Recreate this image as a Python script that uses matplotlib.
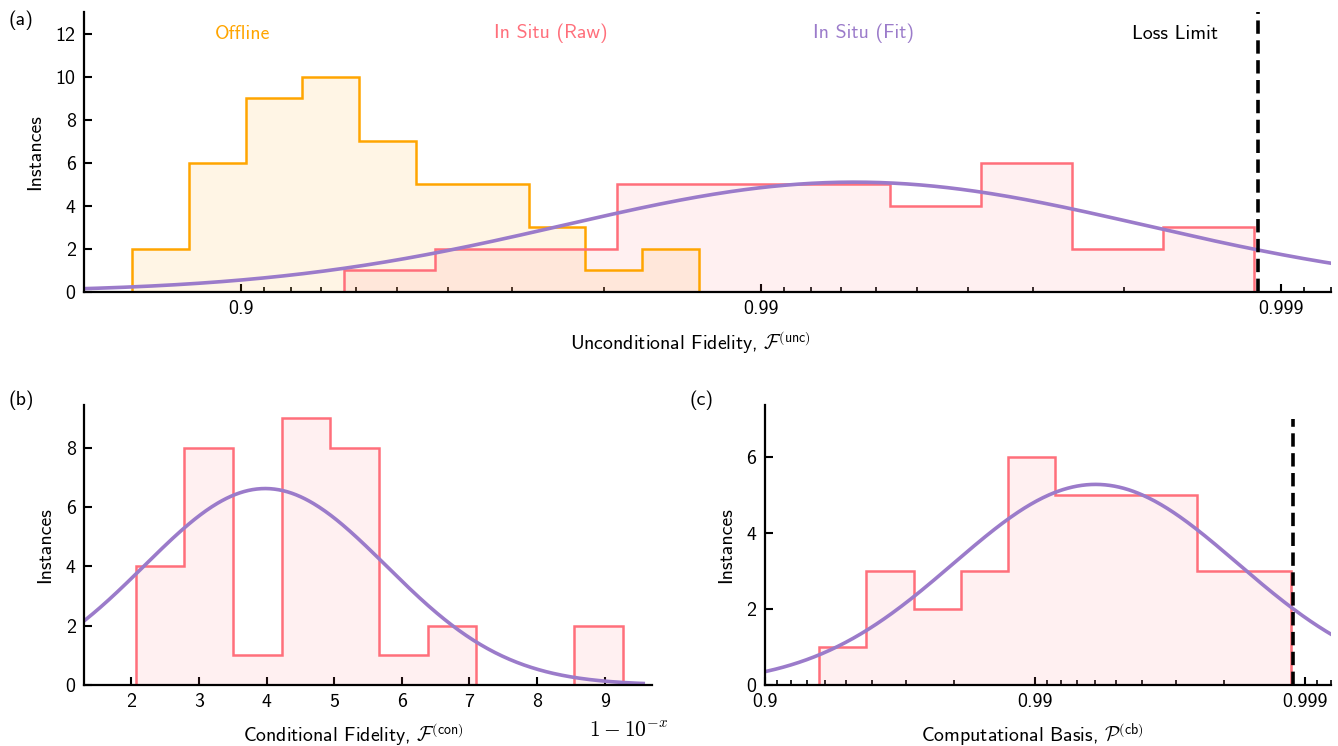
import numpy as np
import matplotlib
matplotlib.use('Agg')
import matplotlib.pyplot as plt
from matplotlib.ticker import FixedLocator, FixedFormatter, NullFormatter

FS = 14.3

plt.rcParams['font.family'] = 'cmss10'
plt.rcParams['mathtext.fontset'] = 'cm'
plt.rcParams['axes.unicode_minus'] = False
plt.rcParams['font.size'] = FS

ORANGE = '#FFA500'
RED = '#FF6F7B'
PURPLE = '#9B7BCA'

# all x values are in "nines": x = -log10(1 - F)
offline_edges = [0.792, 0.901, 1.010, 1.119, 1.228, 1.337, 1.445, 1.554, 1.663, 1.772, 1.881]
offline_counts = [2, 6, 9, 10, 7, 5, 5, 3, 1, 2]

unc_edges = [1.198, 1.373, 1.548, 1.723, 1.898, 2.073, 2.248, 2.423, 2.598, 2.773, 2.948]
unc_counts = [1, 2, 2, 5, 5, 5, 4, 6, 2, 3]
unc_fit = (5.1, 2.18, 0.56)  # amplitude, mean, sigma

con_edges = [2.064, 2.784, 3.504, 4.224, 4.944, 5.664, 6.384, 7.104, 7.824, 8.544, 9.264]
con_counts = [4, 8, 1, 9, 8, 1, 2, 0, 0, 2]
con_fit = (6.63, 3.98, 1.79)

cb_edges = [1.201, 1.376, 1.551, 1.725, 1.900, 2.075, 2.250, 2.424, 2.599, 2.774, 2.949]
cb_counts = [1, 3, 2, 3, 6, 5, 5, 5, 3, 3]
cb_fit = (5.28, 2.225, 0.526)

loss_limit = 2.956

nines_ticks = [1, 2, 3]
nines_labels = ['0.9', '0.99', '0.999']


def gauss(x, amp, mu, sigma):
    return amp * np.exp(-(x - mu) ** 2 / (2 * sigma ** 2))


def draw_hist(ax, edges, counts, color, z):
    ax.stairs(counts, edges, fill=True, color=color, alpha=0.1, lw=0, zorder=z)
    ax.stairs(counts, edges, baseline=0, color=color, lw=1.8, zorder=z + 1)


def style(ax):
    for s in ['top', 'right']:
        ax.spines[s].set_visible(False)
    for s in ['left', 'bottom']:
        ax.spines[s].set_linewidth(1.6)
        ax.spines[s].set_zorder(10)
    ax.tick_params(direction='in', width=1.5, length=6, pad=6, labelsize=FS)
    ax.tick_params(which='minor', direction='in', width=1.2, length=3.5)


def nines_axis(ax):
    minor = [-np.log10(k * 10.0 ** -n) for n in range(1, 5) for k in range(2, 10)]
    ax.xaxis.set_major_locator(FixedLocator(nines_ticks))
    ax.xaxis.set_major_formatter(FixedFormatter(nines_labels))
    ax.xaxis.set_minor_locator(FixedLocator(minor))
    ax.xaxis.set_minor_formatter(NullFormatter())


fig = plt.figure(figsize=(13.38, 7.46), dpi=100)
ax_a = fig.add_axes([0.0628, 0.6086, 0.932, 0.3753])
ax_b = fig.add_axes([0.0628, 0.0818, 0.4245, 0.3753])
ax_c = fig.add_axes([0.5717, 0.0818, 0.4230, 0.3753])

# (a) unconditional fidelity
draw_hist(ax_a, offline_edges, offline_counts, ORANGE, 2)
draw_hist(ax_a, unc_edges, unc_counts, RED, 2)
xs = np.linspace(0.6, 3.2, 400)
ax_a.plot(xs, gauss(xs, *unc_fit), color=PURPLE, lw=2.6, zorder=5)
ax_a.axvline(loss_limit, color='black', lw=2.6, ls=(0, (3.7, 1.8)), zorder=6)
ax_a.set_xlim(-np.log10(0.2), -np.log10(0.0008))
ax_a.set_ylim(0, 13)
ax_a.set_yticks([0, 2, 4, 6, 8, 10, 12])
nines_axis(ax_a)
style(ax_a)
ax_a.set_xlabel(r'Unconditional Fidelity, $\mathcal{F}^{\mathsf{(unc)}}$', labelpad=8)
ax_a.xaxis.label.set_x(0.486)
ax_a.set_ylabel('Instances', labelpad=8)
for x, txt, c in [(0.127, 'Offline', ORANGE), (0.374, 'In Situ (Raw)', RED),
                  (0.625, 'In Situ (Fit)', PURPLE), (0.875, 'Loss Limit', 'black')]:
    ax_a.text(x, 12 / 13, txt, color=c, ha='center', va='center',
              transform=ax_a.transAxes)

# (b) conditional fidelity
draw_hist(ax_b, con_edges, con_counts, RED, 2)
xs = np.linspace(1.0, 9.57, 400)
ax_b.plot(xs, gauss(xs, *con_fit), color=PURPLE, lw=2.6, zorder=5)
ax_b.set_xlim(1.30, 9.70)
ax_b.set_ylim(0, 9.45)
ax_b.set_xticks(range(2, 10))
ax_b.set_yticks([0, 2, 4, 6, 8])
style(ax_b)
ax_b.set_xlabel(r'Conditional Fidelity, $\mathcal{F}^{\mathsf{(con)}}$', labelpad=7)
ax_b.xaxis.label.set_x(0.4735)
ax_b.set_ylabel('Instances', labelpad=8)
ax_b.text(0.958, -0.165, r'$1-10^{-x}$', ha='center', va='center', fontsize=15.5,
          transform=ax_b.transAxes)

# (c) computational basis
draw_hist(ax_c, cb_edges, cb_counts, RED, 2)
xs = np.linspace(0.9, 3.2, 400)
ax_c.plot(xs, gauss(xs, *cb_fit), color=PURPLE, lw=2.6, zorder=5)
ax_c.vlines(loss_limit, 0, 7, color='black', lw=2.6, ls=(0, (3.7, 1.8)), zorder=6)
ax_c.set_xlim(1.0, -np.log10(0.0008))
ax_c.set_ylim(0, 7.37)
ax_c.set_yticks([0, 2, 4, 6])
nines_axis(ax_c)
style(ax_c)
ax_c.set_xlabel(r'Computational Basis, $\mathcal{P}^{\mathsf{(cb)}}$', labelpad=7)
ax_c.xaxis.label.set_x(0.4717)
ax_c.set_ylabel('Instances', labelpad=8)

fig.text(0.006, 0.973, '(a)', va='center')
fig.text(0.006, 0.463, '(b)', va='center')
fig.text(0.515, 0.463, '(c)', va='center')

fig.savefig('out.png', dpi=100)
